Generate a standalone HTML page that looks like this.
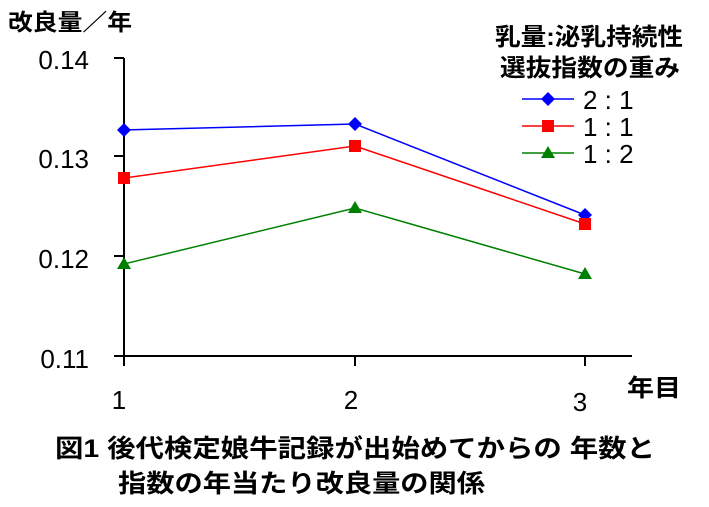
<!DOCTYPE html>
<html><head><meta charset="utf-8"><style>
body{margin:0;background:#fff}
text{font-family:"Liberation Sans","Noto Sans CJK JP",sans-serif;fill:#000}
</style></head><body>
<svg width="709" height="502" xmlns="http://www.w3.org/2000/svg">
<text x="8" y="30" font-size="23" font-weight="bold" textLength="124" lengthAdjust="spacingAndGlyphs">改良量／年</text>
<text x="495" y="45" font-size="24" font-weight="bold" textLength="188" lengthAdjust="spacingAndGlyphs">乳量:泌乳持続性</text>
<text x="500" y="76" font-size="24" font-weight="bold" textLength="180" lengthAdjust="spacingAndGlyphs">選抜指数の重み</text>
<g font-size="26" text-anchor="end">
<text x="89" y="69">0.14</text><text x="89" y="168">0.13</text><text x="89" y="268">0.12</text><text x="89" y="368">0.11</text>
</g>
<g font-size="26" text-anchor="middle">
<text x="119" y="409">1</text><text x="351" y="409">2</text><text x="580" y="411">3</text>
</g>
<text x="627" y="396" font-size="24" font-weight="bold" textLength="54" lengthAdjust="spacingAndGlyphs">年目</text>
<g stroke="#000" stroke-width="2" fill="none">
<path d="M124 58V356M114 58H124M114 156H124M114 256H124M114 356H632M124 356V366M355 356V366M585 356V366"/>
</g>
<polyline points="124,130 355,124 585,215" fill="none" stroke="#0000ff" stroke-width="1.5"/>
<polyline points="124,178 355,146 585,224" fill="none" stroke="#ff0000" stroke-width="1.5"/>
<polyline points="124,264 355,208 585,274" fill="none" stroke="#008000" stroke-width="1.5"/>
<g fill="#0000ff"><path d="M124 123l7 7-7 7-7-7z"/><path d="M355 117l7 7-7 7-7-7z"/><path d="M585 208l7 7-7 7-7-7z"/><path d="M548 92l7 7-7 7-7-7z"/></g>
<g fill="#ff0000"><rect x="118" y="172" width="12" height="12"/><rect x="349" y="140" width="12" height="12"/><rect x="579" y="218" width="12" height="12"/><rect x="542" y="120" width="12" height="12"/></g>
<g fill="#008000"><path d="M124 257l7 12h-14z"/><path d="M355 201l7 12h-14z"/><path d="M585 267l7 12h-14z"/><path d="M548 146l7 12h-14z"/></g>
<g stroke-width="1.5"><line x1="522" y1="99" x2="574" y2="99" stroke="#0000ff"/><line x1="522" y1="126" x2="574" y2="126" stroke="#ff0000"/><line x1="522" y1="153" x2="574" y2="153" stroke="#008000"/></g>
<g font-size="26"><text x="583" y="109">2 : 1</text><text x="583" y="136">1 : 1</text><text x="583" y="163">1 : 2</text></g>
<text x="55" y="457" font-size="25" font-weight="bold" textLength="600" lengthAdjust="spacingAndGlyphs">図1  後代検定娘牛記録が出始めてからの  年数と</text>
<text x="118" y="492" font-size="25" font-weight="bold" textLength="367" lengthAdjust="spacingAndGlyphs">指数の年当たり改良量の関係</text>
</svg>
</body></html>
